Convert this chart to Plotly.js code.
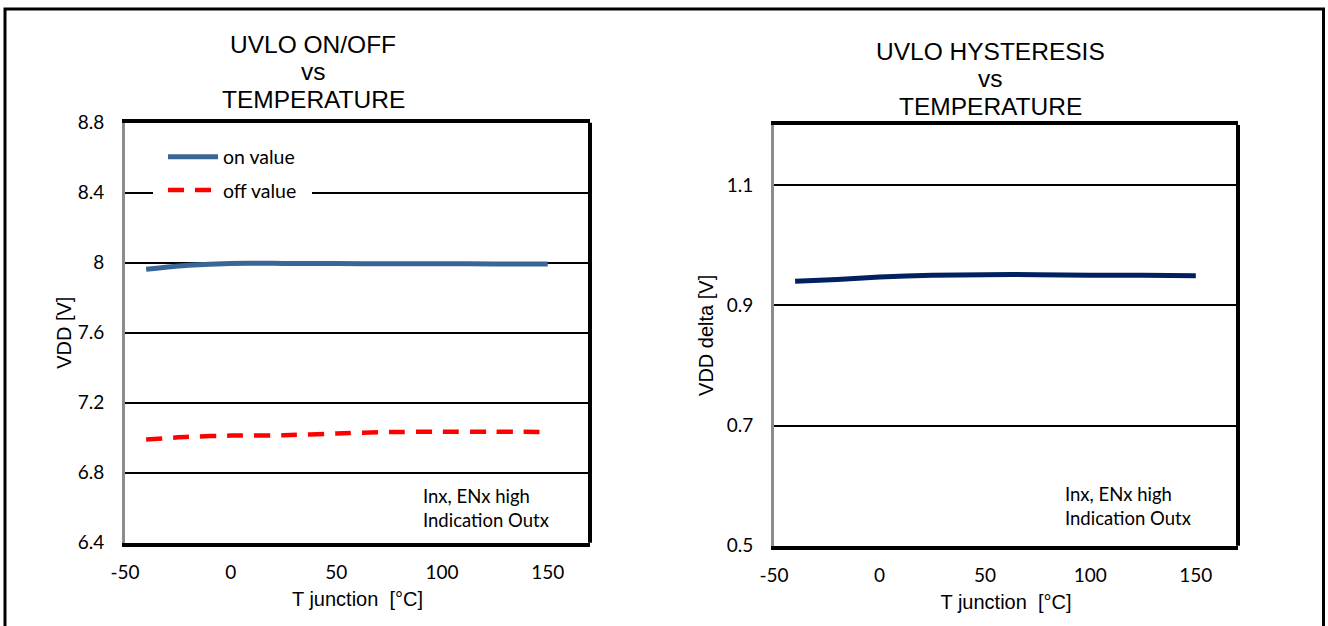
<!DOCTYPE html>
<html>
<head>
<meta charset="utf-8">
<script src="https://cdn.plot.ly/plotly-3.0.1.min.js"></script>
<style>
  html, body { margin: 0; padding: 0; background: #fff; }
  #chart { width: 1328px; height: 626px; }
</style>
</head>
<body>
<div id="chart"></div>
<script>
// Junction temperature sample points [°C]
const tempC = [-40, -20, 0, 25, 50, 75, 100, 125, 150];

// UVLO thresholds [V]
const onValue  = [7.962, 7.985, 7.996, 7.996, 7.995, 7.994, 7.994, 7.993, 7.993];
const offValue = [6.990, 7.005, 7.012, 7.014, 7.024, 7.032, 7.034, 7.034, 7.033];

// UVLO hysteresis [V]
const hysteresis = [0.940, 0.943, 0.947, 0.950, 0.951, 0.951, 0.950, 0.950, 0.949];

// Axis ticks
const xTicks = [-50, 0, 50, 100, 150];
const xTickText = ['-50', '0', '50', '100', '150'];
const leftYTicks = [6.4, 6.8, 7.2, 7.6, 8, 8.4, 8.8];
const rightYTicks = [0.5, 0.7, 0.9, 1.1];

// Chart titles, one entry per line
const leftTitle = ['UVLO ON/OFF', 'vs', 'TEMPERATURE'];
const rightTitle = ['UVLO HYSTERESIS', 'vs', 'TEMPERATURE'];
const noteText = 'Inx, ENx high<br>Indication Outx';

const W = 1328, H = 626;
const px = x => x / W;          // page x pixel -> paper
const py = y => 1 - y / H;      // page y pixel -> paper

const tickFont = { family: 'Lato, "Open Sans", sans-serif', size: 19, color: '#000' };
const titleFont = { family: '"Liberation Sans", Arial, sans-serif', size: 24.5, color: '#000' };
const axTitleFont = { family: '"Liberation Sans", Arial, sans-serif', size: 20, color: '#000' };
const noteFont = { family: 'Lato, "Open Sans", sans-serif', size: 18.5, color: '#000' };

const traces = [
  {
    x: tempC, y: onValue, name: 'on value', type: 'scatter', mode: 'lines',
    xaxis: 'x', yaxis: 'y', legendgroup: 'on',
    line: { color: '#3A6597', width: 5, shape: 'spline', smoothing: 0.6 }
  },
  {
    x: tempC, y: offValue, name: 'off value', type: 'scatter', mode: 'lines',
    xaxis: 'x', yaxis: 'y', legendgroup: 'off',
    line: { color: '#FF0000', width: 4.5, dash: '16px,11px', shape: 'spline', smoothing: 0.6 }
  },
  {
    x: tempC, y: hysteresis, name: 'hysteresis', type: 'scatter', mode: 'lines',
    xaxis: 'x2', yaxis: 'y2', showlegend: false,
    line: { color: '#002060', width: 5, shape: 'spline', smoothing: 0.6 }
  }
];

function xAxis(domain, anchor) {
  return {
    domain: domain, anchor: anchor, range: [-50, 170],
    tickmode: 'array', tickvals: xTicks, ticktext: xTickText, ticks: '', ticklabelstandoff: 9,
    tickfont: tickFont, showgrid: false, zeroline: false,
    showline: true, linecolor: '#000', linewidth: 4, mirror: true,
    fixedrange: true,
    title: { text: 'T junction  [°C]', font: axTitleFont, standoff: 11 }
  };
}
function yAxis(domain, anchor, range, vals, title, standoff) {
  return {
    domain: domain, anchor: anchor, range: range,
    tickmode: 'array', tickvals: vals, ticks: '', ticklabelstandoff: 14,
    tickfont: tickFont, showgrid: true, gridcolor: '#000', gridwidth: 2,
    zeroline: false, showline: true, linecolor: '#8C8C8C', linewidth: 3,
    fixedrange: true,
    title: { text: title, font: axTitleFont, standoff: standoff }
  };
}

function titleLines(lines, cx, ys) {
  return lines.map((t, i) => ({
    xref: 'paper', yref: 'paper', x: px(cx), y: py(ys[i]), xanchor: 'center', yanchor: 'middle',
    showarrow: false, font: titleFont, text: t
  }));
}

const layout = {
  width: W, height: H,
  margin: { l: 0, r: 0, t: 0, b: 0 },
  paper_bgcolor: '#fff', plot_bgcolor: '#fff',
  showlegend: true,
  xaxis:  xAxis([px(125), px(590)], 'y'),
  yaxis:  yAxis([py(542.7), py(122.7)], 'x', [6.4, 8.8], leftYTicks, 'VDD [V]', 1),
  xaxis2: xAxis([px(774), px(1238)], 'y2'),
  yaxis2: yAxis([py(545.7), py(125)], 'x2', [0.5, 1.2], rightYTicks, 'VDD delta [V]', 8),
  legend: {
    x: px(153), y: py(127.5), xanchor: 'left', yanchor: 'top',
    bgcolor: '#fff', bordercolor: '#fff', borderwidth: 10,
    traceorder: 'grouped', tracegroupgap: 5,
    itemwidth: 50, font: { family: 'Lato, "Open Sans", sans-serif', size: 19.5, color: '#000' }
  },
  annotations: [
    ...titleLines(leftTitle, 313, [44.5, 71.5, 100]),
    ...titleLines(rightTitle, 990, [51, 78.5, 106.5]),
    { xref: 'paper', yref: 'paper', x: px(421), y: py(508), xanchor: 'left', yanchor: 'middle', align: 'left',
      showarrow: false, font: noteFont, text: noteText },
    { xref: 'paper', yref: 'paper', x: px(1063), y: py(506), xanchor: 'left', yanchor: 'middle', align: 'left',
      showarrow: false, font: noteFont, text: noteText }
  ],
  shapes: [
    // right edges of both plot frames
    { type: 'line', xref: 'x domain', yref: 'y domain', x0: 1, x1: 1, y0: 0, y1: 1,
      line: { color: '#000', width: 4 } },
    { type: 'line', xref: 'x2 domain', yref: 'y2 domain', x0: 1, x1: 1, y0: 0, y1: 1,
      line: { color: '#000', width: 4 } },
    // outer frame around the figure
    { type: 'rect', xref: 'paper', yref: 'paper', x0: px(5), x1: px(1323.5), y0: -0.05, y1: py(9),
      line: { color: '#000', width: 3 }, fillcolor: 'rgba(0,0,0,0)' }
  ]
};

Plotly.newPlot('chart', traces, layout, { displayModeBar: false, staticPlot: true });
</script>
</body>
</html>
